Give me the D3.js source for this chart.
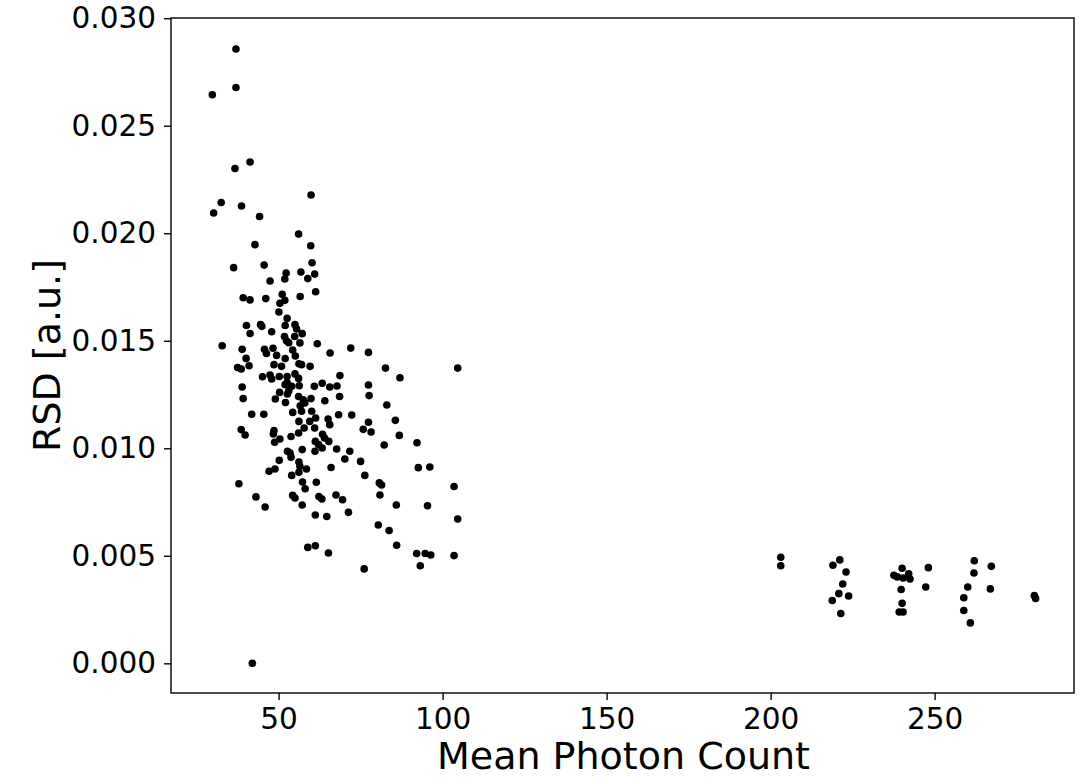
<!DOCTYPE html>
<html>
<head>
<meta charset="utf-8">
<script src="https://cdn.jsdelivr.net/npm/d3@7"></script>
<style>
  html, body { margin: 0; padding: 0; background: #fff; }
  svg { display: block; }
  text { font-family: "DejaVu Sans", sans-serif; fill: #000; }
</style>
</head>
<body>
<div id="chart"></div>
<script>
// ---- data ----
const meanPhotonCount = [
  37.0, 37.0, 29.8, 36.7, 41.3, 59.9, 32.5, 38.7, 30.2, 44.2,
  56.1, 42.8, 59.8, 36.3, 45.6, 60.2, 52.3, 51.9, 56.8, 61.0,
  58.9, 47.4, 61.3, 39.2, 41.3, 46.1, 51.1, 51.9, 50.4, 56.6,
  50.1, 52.6, 52.0, 55.0, 55.5, 40.2, 44.5, 44.9, 41.3, 47.9,
  57.2, 54.9, 51.8, 52.4, 53.1, 56.5, 32.8, 61.8, 72.0, 38.9,
  45.7, 48.3, 46.3, 49.4, 54.3, 55.1, 52.0, 65.7, 40.1, 37.5,
  38.6, 41.0, 48.6, 50.9, 56.2, 57.0, 59.6, 45.1, 47.4, 47.9,
  50.2, 52.6, 55.0, 56.1, 68.7, 52.6, 52.0, 38.9, 63.3, 60.9,
  65.6, 67.8, 54.0, 56.3, 53.1, 50.3, 52.7, 39.2, 49.0, 52.1,
  56.1, 57.5, 59.9, 64.1, 68.6, 77.4, 82.6, 104.6, 87.0, 77.4,
  77.6, 83.0, 56.6, 58.0, 41.8, 45.5, 54.3, 57.0, 60.1, 61.3,
  56.2, 59.5, 65.1, 65.6, 68.3, 72.3, 38.6, 39.8, 48.6, 48.4,
  56.1, 57.8, 61.0, 53.8, 50.4, 48.8, 63.4, 64.0, 65.3, 61.2,
  62.2, 63.3, 61.1, 57.2, 52.7, 53.5, 53.8, 67.7, 71.7, 70.2,
  50.2, 56.2, 56.5, 58.5, 48.9, 47.1, 56.2, 54.0, 66.0, 75.0,
  37.9, 57.3, 58.1, 61.5, 43.1, 45.9, 54.3, 55.0, 57.2, 62.3,
  63.2, 67.5, 69.5, 61.2, 64.7, 71.3, 58.9, 61.2, 65.2, 77.4,
  75.8, 78.2, 85.6, 86.8, 82.2, 92.2, 76.3, 92.6, 96.1, 80.7,
  81.4, 80.9, 103.5, 85.9, 95.4, 104.6, 80.4, 83.7, 86.0, 92.1,
  94.7, 96.4, 103.5, 93.2, 76.1, 42.0,
  203.1, 203.1, 221.1, 219.0, 223.0, 222.0, 220.8, 223.8, 218.8, 221.4,
  240.1, 237.6, 238.6, 240.4, 242.1, 242.5, 239.8, 240.1, 239.2, 240.4,
  248.1, 247.3, 262.1, 267.3, 262.0, 260.1, 267.0, 258.9, 258.9, 260.9,
  280.4, 280.8
];
const rsd = [
  0.02857, 0.02678, 0.02644, 0.02301, 0.02331, 0.02178, 0.02143, 0.02127, 0.02094, 0.02078,
  0.01996, 0.01947, 0.01942, 0.01840, 0.01852, 0.01863, 0.01815, 0.01787, 0.01820, 0.01810,
  0.01789, 0.01778, 0.01728, 0.01700, 0.01690, 0.01696, 0.01716, 0.01688, 0.01674, 0.01706,
  0.01634, 0.01604, 0.01571, 0.01575, 0.01555, 0.01571, 0.01575, 0.01567, 0.01534, 0.01542,
  0.01533, 0.01520, 0.01520, 0.01500, 0.01491, 0.01490, 0.01477, 0.01486, 0.01466, 0.01460,
  0.01460, 0.01465, 0.01441, 0.01432, 0.01457, 0.01429, 0.01417, 0.01443, 0.01418, 0.01376,
  0.01369, 0.01384, 0.01389, 0.01381, 0.01393, 0.01389, 0.01381, 0.01333, 0.01341, 0.01322,
  0.01334, 0.01334, 0.01346, 0.01325, 0.01338, 0.01306, 0.01296, 0.01285, 0.01302, 0.01288,
  0.01285, 0.01290, 0.01288, 0.01291, 0.01266, 0.01260, 0.01253, 0.01231, 0.01229, 0.01213,
  0.01241, 0.01226, 0.01231, 0.01221, 0.01241, 0.01446, 0.01373, 0.01373, 0.01328, 0.01294,
  0.01245, 0.01201, 0.01198, 0.01211, 0.01158, 0.01158, 0.01167, 0.01172, 0.01172, 0.01141,
  0.01125, 0.01125, 0.01136, 0.01110, 0.01156, 0.01155, 0.01087, 0.01062, 0.01083, 0.01067,
  0.01071, 0.01094, 0.01094, 0.01055, 0.01043, 0.01028, 0.01065, 0.01048, 0.01032, 0.01032,
  0.01017, 0.01001, 0.00986, 0.00994, 0.00986, 0.00978, 0.00958, 0.00997, 0.00986, 0.00950,
  0.00944, 0.00936, 0.00916, 0.00904, 0.00904, 0.00893, 0.00888, 0.00874, 0.00911, 0.00939,
  0.00835, 0.00843, 0.00812, 0.00842, 0.00774, 0.00727, 0.00781, 0.00769, 0.00736, 0.00776,
  0.00764, 0.00783, 0.00761, 0.00690, 0.00683, 0.00702, 0.00539, 0.00547, 0.00513, 0.01121,
  0.01088, 0.01076, 0.01130, 0.01060, 0.01015, 0.01026, 0.00874, 0.00910, 0.00913, 0.00839,
  0.00829, 0.00783, 0.00822, 0.00736, 0.00733, 0.00671, 0.00643, 0.00618, 0.00549, 0.00511,
  0.00511, 0.00504, 0.00501, 0.00454, 0.00439, 0.00000,
  0.00493, 0.00454, 0.00481, 0.00456, 0.00425, 0.00369, 0.00324, 0.00313, 0.00292, 0.00232,
  0.00442, 0.00409, 0.00402, 0.00397, 0.00416, 0.00392, 0.00343, 0.00279, 0.00239, 0.00239,
  0.00445, 0.00355, 0.00477, 0.00451, 0.00420, 0.00355, 0.00346, 0.00305, 0.00246, 0.00188,
  0.00315, 0.00302
];
const xTicks = [50, 100, 150, 200, 250];
const yTicks = [0.000, 0.005, 0.010, 0.015, 0.020, 0.025, 0.030];
const xLimits = [17.2, 292.5];
const yLimits = [-0.00138, 0.03001];
const xLabel = "Mean Photon Count";
const yLabel = "RSD [a.u.]";

// ---- layout ----
const W = 1084, H = 778;
const plot = { left: 171, top: 18, right: 1074, bottom: 693 };

const svg = d3.select("#chart").append("svg")
  .attr("width", W).attr("height", H);

const x = d3.scaleLinear().domain(xLimits).range([plot.left, plot.right]);
const y = d3.scaleLinear().domain(yLimits).range([plot.bottom, plot.top]);

const points = meanPhotonCount.map((v, i) => ({ x: v, y: rsd[i] }));

// points
svg.append("g")
  .selectAll("circle")
  .data(points)
  .join("circle")
  .attr("cx", d => x(d.x))
  .attr("cy", d => y(d.y))
  .attr("r", 3.8)
  .attr("fill", "#000");

// axes
const xAxis = d3.axisBottom(x).tickValues(xTicks).tickFormat(d3.format("d"))
  .tickSize(7).tickPadding(8);
const yAxis = d3.axisLeft(y).tickValues(yTicks).tickFormat(d3.format(".3f"))
  .tickSize(7).tickPadding(8);

const gx = svg.append("g").attr("transform", `translate(0,${plot.bottom})`).call(xAxis);
const gy = svg.append("g").attr("transform", `translate(${plot.left},0)`).call(yAxis);
[gx, gy].forEach(g => {
  g.select(".domain").remove();
  g.selectAll(".tick line").attr("stroke", "#000").attr("stroke-width", 1.4);
  g.selectAll(".tick text")
    .attr("font-family", "DejaVu Sans, sans-serif")
    .attr("font-size", 29.5)
    .attr("fill", "#000");
});

// frame (spines)
svg.append("rect")
  .attr("x", plot.left).attr("y", plot.top)
  .attr("width", plot.right - plot.left).attr("height", plot.bottom - plot.top)
  .attr("fill", "none").attr("stroke", "#000").attr("stroke-width", 1.4);

// axis labels
svg.append("text")
  .attr("x", (plot.left + plot.right) / 2 + 1)
  .attr("y", 769)
  .attr("text-anchor", "middle")
  .attr("font-size", 38)
  .text(xLabel);

svg.append("text")
  .attr("transform", `translate(60,${(plot.top + plot.bottom) / 2}) rotate(-90)`)
  .attr("text-anchor", "middle")
  .attr("font-size", 38)
  .text(yLabel);
</script>
</body>
</html>
